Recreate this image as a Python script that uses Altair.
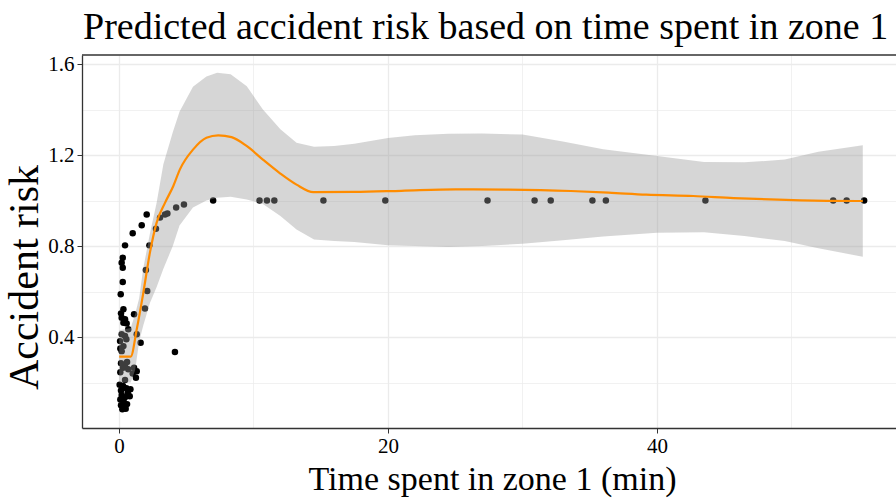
import altair as alt
import pandas as pd

# ---- observed points ----
pt_x = [0.05, 0.30, 0.55, 0.15, 0.65, 0.20, 0.45, 0.80, 0.10, 0.35, 0.60, 0.15, 0.40, 0.25, 0.50, 0.85,
        0.45, 1.26, 1.02, 1.32, 0.69, 1.12, 0.45, 0.15, 0.30, 0.10, 0.60,
        0.20, 0.33, 0.08, 0.45, 0.20, 0.69, 1.32, 1.61, 0.10, 0.55,
        0.57, 0.33, 0.45, 0.20, 0.15, 1.12, 0.33, 0.13, 0.28, 0.28, 0.20, 0.28, 0.45, 1.02, 1.69, 2.06,
        1.93, 2.10, 2.00, 2.26, 2.75, 3.05, 3.42, 3.60, 4.25, 4.83,
        4.16,
        7.0, 10.45, 11.0, 11.55, 15.2, 19.8, 27.4, 30.9, 32.1, 35.2, 36.2, 43.6, 53.1, 54.1, 55.4]
pt_y = [0.190, 0.185, 0.175, 0.165, 0.155, 0.145, 0.135, 0.140, 0.125, 0.115, 0.105, 0.100, 0.090, 0.082, 0.085, 0.170,
        0.211, 0.221, 0.240, 0.250, 0.258, 0.265, 0.273, 0.285, 0.265, 0.245, 0.290,
        0.338, 0.360, 0.382, 0.404, 0.412, 0.434, 0.412, 0.375, 0.350, 0.390,
        0.460, 0.463, 0.478, 0.485, 0.504, 0.500, 0.522, 0.588, 0.642, 0.705, 0.727, 0.749, 0.803, 0.856, 0.891, 0.939,
        0.525, 0.602, 0.695, 0.803, 0.876, 0.925, 0.939, 0.943, 0.969, 0.983,
        0.334,
        1.0, 1.0, 1.0, 1.0, 1.0, 1.0, 1.0, 1.0, 1.0, 1.0, 1.0, 1.0, 1.0, 1.0, 1.0]

# ---- fitted curve ----
fit_x = [0.02, 0.87, 1.32, 1.81, 2.3, 2.8, 3.42, 4.04, 4.53, 5.52, 6.5, 7.38, 8.37, 9.49, 10.7, 11.97,
         13.2, 14.45, 17.5, 21.0, 25.0, 28.7, 33.6, 36.4, 39.2, 42.7, 45.7, 48.4, 52.6, 55.3]
fit_y = [0.314, 0.314, 0.434, 0.595, 0.771, 0.903, 0.99, 1.064, 1.137, 1.225, 1.276, 1.287, 1.279, 1.24,
         1.18, 1.12, 1.07, 1.037, 1.038, 1.043, 1.049, 1.048, 1.042, 1.035, 1.026, 1.02, 1.011, 1.005, 0.999, 0.998]

# ---- confidence band ----
band_x = [0.02, 0.87, 1.2, 1.5, 1.8, 2.3, 2.8, 3.3, 4.0, 4.5, 5.5, 6.5, 7.3, 8.3, 9.5, 10.7, 12.0, 13.2,
          14.5, 16.0, 17.5, 20.0, 22.0, 24.5, 27.0, 30.0, 33.0, 36.0, 40.0, 43.5, 46.5, 49.5, 52.0, 55.3]
band_hi = [0.43, 0.44, 0.50, 0.57, 0.70, 0.855, 0.99, 1.16, 1.30, 1.39, 1.50, 1.545, 1.562, 1.555, 1.503,
           1.40, 1.313, 1.254, 1.237, 1.24, 1.25, 1.275, 1.287, 1.294, 1.295, 1.29, 1.26, 1.226, 1.196,
           1.17, 1.168, 1.18, 1.215, 1.243]
band_lo = [0.20, 0.20, 0.255, 0.38, 0.45, 0.55, 0.62, 0.70, 0.80, 0.89, 0.97, 1.00, 1.012, 1.017, 1.005,
           0.985, 0.932, 0.873, 0.829, 0.822, 0.818, 0.804, 0.80, 0.796, 0.80, 0.81, 0.826, 0.842, 0.859,
           0.861, 0.844, 0.822, 0.79, 0.753]

x_ticks = [0, 10, 20, 30, 40, 50]
y_ticks = [0.2, 0.4, 0.6, 0.8, 1.0, 1.2, 1.4, 1.6]

TITLE = "Predicted accident risk based on time spent in zone 1"
X_TITLE = "Time spent in zone 1 (min)"
Y_TITLE = "Accident risk"

pts = pd.DataFrame({"x": pt_x, "y": pt_y})
fit = pd.DataFrame({"x": fit_x, "y": fit_y})
band = pd.DataFrame({"x": band_x, "lo": band_lo, "hi": band_hi})
title_df = pd.DataFrame({"t": [TITLE]})

W, H = 814, 373
FONT = "Liberation Serif"

xscale = alt.Scale(domain=[-2.75, 57.77], nice=False, zero=False)
yscale = alt.Scale(domain=[0.0, 1.64], nice=False, zero=False)

xaxis = alt.Axis(
    values=x_ticks,
    labelExpr="datum.value % 20 == 0 ? datum.label : ''",
    grid=True,
    gridColor="#EBEBEB",
    gridWidth={"condition": {"test": "datum.value % 20 == 0", "value": 1.3}, "value": 0.7},
    tickOpacity={"condition": {"test": "datum.value % 20 == 0", "value": 1}, "value": 0},
    tickColor="#333333", tickSize=5, tickWidth=1,
    domainColor="#333333", domainWidth=1.3,
    labelFont=FONT, labelFontSize=21, labelColor="black", labelPadding=2,
    title=X_TITLE,
    titleFont=FONT, titleFontSize=34, titleFontWeight="normal", titleColor="black",
    titleX=410, titleY=61, titleBaseline="alphabetic", titleAlign="center",
)
yaxis = alt.Axis(
    values=y_ticks,
    labelExpr="round(datum.value * 10) % 4 == 0 ? datum.label : ''",
    format=".1f",
    grid=True,
    gridColor="#EBEBEB",
    gridWidth={"condition": {"test": "round(datum.value * 10) % 4 == 0", "value": 1.3}, "value": 0.7},
    tickOpacity={"condition": {"test": "round(datum.value * 10) % 4 == 0", "value": 1}, "value": 0},
    tickColor="#333333", tickSize=5, tickWidth=1,
    domainColor="#333333", domainWidth=1.3,
    labelFont=FONT, labelFontSize=21, labelColor="black", labelPadding=3,
    title=Y_TITLE,
    titleFont=FONT, titleFontSize=42, titleFontWeight="normal", titleColor="black",
    titleAngle=270, titleX=-45, titleY=222, titleBaseline="alphabetic", titleAlign="center",
)

points = alt.Chart(pts).mark_circle(size=42, color="black", opacity=1).encode(
    x=alt.X("x:Q", scale=xscale, axis=xaxis),
    y=alt.Y("y:Q", scale=yscale, axis=yaxis),
)
ribbon = alt.Chart(band).mark_area(color="#999999", opacity=0.4).encode(
    x=alt.X("x:Q", scale=xscale),
    y=alt.Y("lo:Q", scale=yscale),
    y2="hi:Q",
)
line = alt.Chart(fit).mark_line(color="#FF8C00", strokeWidth=2.2, interpolate="monotone").encode(
    x=alt.X("x:Q", scale=xscale),
    y=alt.Y("y:Q", scale=yscale),
)
top_border = alt.Chart(title_df).mark_rule(color="#333333", strokeWidth=1.3).encode(
    x=alt.value(0), x2=alt.value(W), y=alt.value(0)
)
title_text = alt.Chart(title_df).mark_text(
    font=FONT, fontSize=38, color="black", align="left", baseline="alphabetic"
).encode(
    x=alt.value(1), y=alt.value(-16), text="t:N"
)

chart = alt.layer(points, ribbon, line, top_border, title_text).properties(
    width=W, height=H,
    autosize=alt.AutoSizeParams(type="none"),
    padding={"left": 82, "top": 55, "right": 0, "bottom": 70},
    background="white",
).configure_view(stroke=None)

chart.save("out.html", embed_options={"renderer": "svg", "actions": False})
